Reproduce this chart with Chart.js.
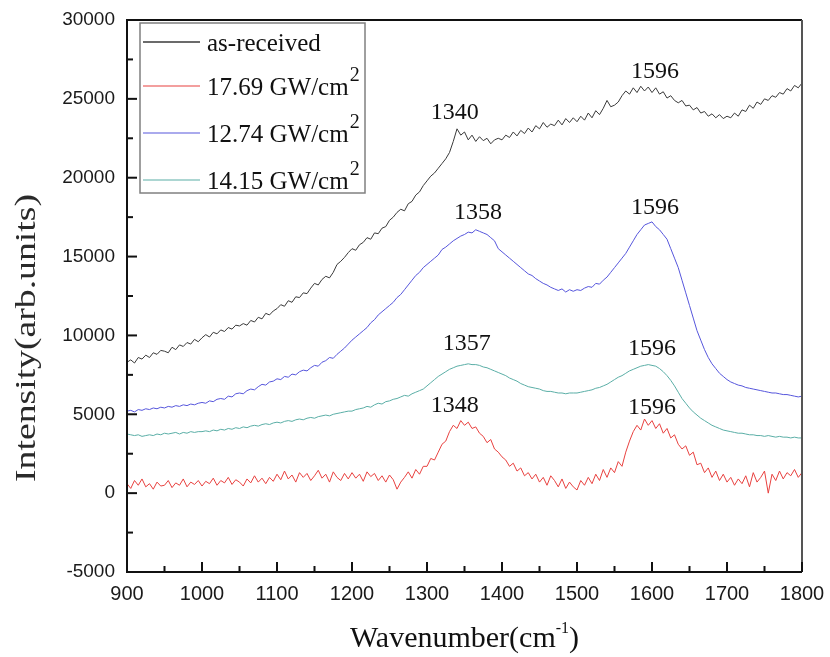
<!DOCTYPE html>
<html>
<head>
<meta charset="utf-8">
<script src="https://cdn.jsdelivr.net/npm/chart.js@4.4.1/dist/chart.umd.min.js"></script>
<style>
  html, body { margin: 0; padding: 0; background: #fff; }
  #wrap { width: 830px; height: 657px; }
</style>
</head>
<body>
<div id="wrap"><canvas id="ramanChart" width="830" height="657"></canvas></div>
<script>
const wavenumbers = [
  900, 905, 910, 915, 920, 925, 930, 935, 940, 945, 950, 955, 960, 965, 970, 975, 980, 985, 990, 995,
  1000, 1005, 1010, 1015, 1020, 1025, 1030, 1035, 1040, 1045, 1050, 1055, 1060, 1065, 1070, 1075, 1080, 1085, 1090, 1095,
  1100, 1105, 1110, 1115, 1120, 1125, 1130, 1135, 1140, 1145, 1150, 1155, 1160, 1165, 1170, 1175, 1180, 1185, 1190, 1195,
  1200, 1205, 1210, 1215, 1220, 1225, 1230, 1235, 1240, 1245, 1250, 1255, 1260, 1265, 1270, 1275, 1280, 1285, 1290, 1295,
  1300, 1305, 1310, 1315, 1320, 1325, 1330, 1335, 1340, 1345, 1350, 1355, 1360, 1365, 1370, 1375, 1380, 1385, 1390, 1395,
  1400, 1405, 1410, 1415, 1420, 1425, 1430, 1435, 1440, 1445, 1450, 1455, 1460, 1465, 1470, 1475, 1480, 1485, 1490, 1495,
  1500, 1505, 1510, 1515, 1520, 1525, 1530, 1535, 1540, 1545, 1550, 1555, 1560, 1565, 1570, 1575, 1580, 1585, 1590, 1595,
  1600, 1605, 1610, 1615, 1620, 1625, 1630, 1635, 1640, 1645, 1650, 1655, 1660, 1665, 1670, 1675, 1680, 1685, 1690, 1695,
  1700, 1705, 1710, 1715, 1720, 1725, 1730, 1735, 1740, 1745, 1750, 1755, 1760, 1765, 1770, 1775, 1780, 1785, 1790, 1795,
  1800
];

// as-received
const asReceived = [
  8300, 8450, 8250, 8600, 8500, 8750, 8600, 8900, 8800, 9050, 9000, 8900, 9250, 9100, 9400, 9300, 9550, 9450, 9750, 9600,
  9850, 10050, 9900, 10200, 10100, 10350, 10250, 10500, 10400, 10650, 10600, 10750, 10650, 10950, 10850, 11150, 11050, 11400, 11300, 11550,
  11700, 11950, 11850, 12200, 12100, 12450, 12400, 12700, 12650, 13000, 13300, 13200, 13550, 13750, 13650, 14000, 14500, 14700, 14950, 15250,
  15500, 15400, 15750, 15900, 16200, 16100, 16500, 16450, 16800, 16900, 17300, 17500, 17800, 18000, 17900, 18350, 18500, 18900, 19100, 19500,
  19800, 20100, 20300, 20600, 20900, 21200, 21600, 22300, 23100, 22700, 22900, 22400, 22700, 22300, 22600, 22350, 22500, 22150, 22400, 22500,
  22400, 22700, 22550, 22900, 22650, 23000, 22800, 23150, 22900, 23300, 23100, 23500, 23200, 23400, 23300, 23650, 23350, 23750, 23500, 23800,
  23550, 23900, 23650, 24100, 23800, 24250, 24000, 24400, 24900, 24500, 24600, 24800, 25200, 25500, 25300, 25700, 25400, 25800, 25500, 25750,
  25400, 25700, 25300, 25450, 25050, 25200, 24900, 24750, 24900, 24550, 24600, 24300, 24450, 24100, 24200, 23900, 24050, 23800, 24000, 23750,
  23900, 23800, 24100, 23900, 24300, 24200, 24600, 24400, 24800, 24650, 25000, 24900, 25200, 25100, 25400, 25300, 25650, 25500, 25850, 25700,
  26000
];

// 17.69 GW/cm2
const gw1769 = [
  600, 300, 800, 500, 900, 400, 600, 250, 700, 450, 500, 800, 350, 650, 500, 900, 400, 700, 550, 800,
  450, 750, 600, 950, 500, 800, 650, 1000, 550, 850, 700, 450, 900, 650, 1100, 700, 950, 600, 1000, 750,
  1200, 850, 1400, 900, 1150, 700, 1300, 1000, 1250, 800, 1100, 1450, 950, 1200, 700, 1350, 1000, 800, 1250, 900,
  1300, 950, 1200, 750, 1350, 1050, 1250, 800, 1100, 700, 1150, 850, 250, 700, 1000, 1350, 950, 1500, 1200, 1700,
  1700, 2200, 2100, 2600, 3100, 3300, 3900, 4300, 4100, 4600, 4300, 4500, 4100, 4200, 3800, 3600, 3200, 3400, 2800, 2600,
  2300, 2100, 1700, 1900, 1400, 1600, 1100, 1300, 900, 1200, 700, 1000, 500, 1100, 800, 400, 900, 300, 700, 400,
  200, 800, 500, 1000, 600, 1200, 800, 1500, 1000, 1600, 1300, 2000, 1700, 2600, 3300, 3900, 4300, 4000, 4700, 4300,
  4600, 4100, 4400, 3800, 4100, 3500, 3700, 3100, 2800, 3000, 2400, 2600, 1800, 1900, 1300, 1600, 1000, 1400, 800, 1200,
  700, 1000, 500, 900, 600, 1100, 400, 1300, 700, 1000, 1400, 0, 1200, 800, 1400, 900, 1300, 1100, 1500, 1000,
  1300
];

// 12.74 GW/cm2
const gw1274 = [
  5200, 5250, 5150, 5300, 5250, 5350, 5300, 5400, 5350, 5450, 5400, 5500, 5450, 5550, 5500, 5600, 5550, 5650, 5600, 5700,
  5750, 5700, 5850, 5800, 5950, 6000, 5950, 6150, 6100, 6300, 6350, 6300, 6500, 6600, 6550, 6750, 6900, 6850, 7050, 7100,
  7250, 7200, 7400, 7350, 7550, 7500, 7700, 7800, 7750, 7950, 8100, 8050, 8300, 8400, 8600, 8550, 8800, 9000, 9200, 9450,
  9700, 9900, 10100, 10300, 10500, 10800, 11000, 11300, 11500, 11700, 11900, 12100, 12400, 12600, 12900, 13200, 13500, 13800, 14000, 14300,
  14500, 14700, 14900, 15100, 15450, 15600, 15800, 16000, 16150, 16300, 16400, 16550, 16500, 16700, 16600, 16500, 16400, 16200, 16000, 15500,
  15300, 15100, 14900, 14700, 14500, 14300, 14100, 13900, 13800, 13600, 13450, 13300, 13200, 13050, 12950, 12850, 12950, 12750, 12900, 12800,
  12900, 12850, 13000, 13100, 13050, 13300, 13250, 13500, 13700, 14000, 14300, 14600, 14900, 15200, 15600, 16000, 16400, 16700, 17000, 17100,
  17200, 16900, 16700, 16400, 16100, 15500, 14900, 14300, 13500, 12700, 11900, 11100, 10300, 9700, 9100, 8600, 8200, 7900, 7600, 7400,
  7200, 7050, 6950, 6850, 6800, 6700, 6650, 6600, 6550, 6500, 6450, 6400, 6350, 6350, 6300, 6250, 6250, 6200, 6150, 6100,
  6150
];

// 14.15 GW/cm2
const gw1415 = [
  3750, 3700, 3650, 3700, 3600, 3650, 3700, 3650, 3750, 3700, 3800, 3750, 3800, 3850, 3750, 3850, 3800, 3900, 3850, 3900,
  3900, 3950, 3900, 4000, 3950, 4050, 4000, 4100, 4050, 4150, 4100, 4200, 4150, 4250, 4300, 4250, 4350, 4400, 4350, 4450,
  4500, 4450, 4550, 4600, 4550, 4650, 4700, 4650, 4750, 4800, 4750, 4850, 4900, 4950, 4900, 5000, 5050, 5100, 5150, 5200,
  5200, 5300, 5350, 5400, 5500, 5450, 5600, 5700, 5650, 5800, 5850, 5950, 6000, 6100, 6200, 6150, 6300, 6400, 6500, 6600,
  6800, 7000, 7200, 7400, 7550, 7700, 7850, 7950, 8050, 8100, 8150, 8200, 8150, 8150, 8100, 8000, 7950, 7850, 7750, 7650,
  7550, 7450, 7300, 7200, 7100, 6950, 6850, 6750, 6700, 6650, 6600, 6500, 6450, 6450, 6400, 6350, 6350, 6300, 6350, 6350,
  6350, 6400, 6450, 6500, 6550, 6650, 6700, 6800, 6900, 7050, 7200, 7350, 7450, 7600, 7750, 7850, 7950, 8050, 8100, 8150,
  8100, 8050, 7900, 7700, 7450, 7150, 6800, 6400, 6000, 5700, 5400, 5150, 4950, 4750, 4600, 4450, 4300, 4200, 4100, 4000,
  3950, 3900, 3850, 3800, 3800, 3750, 3700, 3700, 3650, 3650, 3600, 3650, 3600, 3550, 3600, 3550, 3550, 3500, 3550, 3500,
  3500
];

const seriesLabels = ['as-received', '17.69 GW/cm', '12.74 GW/cm', '14.15 GW/cm'];
const seriesSup = ['', '2', '2', '2'];
const seriesColors = ['#3a3a3a', '#e8413f', '#5656dc', '#5aaea6'];

// peak annotations
const peakText = ['1340', '1596', '1358', '1596', '1357', '1596', '1348', '1596'];
const peakX = [1337, 1604, 1368, 1604, 1353, 1600, 1337, 1600];
const peakY = [24100, 26700, 17750, 18070, 9450, 9130, 5520, 5390];

const SERIF = '"Liberation Serif", "Times New Roman", serif';
const SANS = '"Liberation Sans", Arial, sans-serif';

const allSeries = [asReceived, gw1769, gw1274, gw1415];

const decorations = {
  id: 'decorations',
  afterDraw(chart) {
    const { ctx, chartArea: a, scales: { x, y } } = chart;
    ctx.save();

    // frame
    ctx.lineWidth = 2;
    ctx.strokeStyle = '#111';
    ctx.beginPath();
    ctx.moveTo(a.right, a.top);
    ctx.lineTo(a.left, a.top);
    ctx.lineTo(a.left, a.bottom);
    ctx.lineTo(a.right, a.bottom);
    ctx.stroke();
    ctx.strokeStyle = '#555';
    ctx.beginPath();
    ctx.moveTo(a.right, a.top);
    ctx.lineTo(a.right, a.bottom);
    ctx.stroke();

    // inward ticks, major + minor
    ctx.fillStyle = '#111';
    const yStep = 5000, xStep = 100;
    for (let v = y.min; v <= y.max; v += yStep / 2) {
      const py = y.getPixelForValue(v);
      const len = (v % yStep === 0) ? 10 : 6;
      ctx.fillRect(a.left, py - 1, len, 2);
    }
    for (let v = x.min; v <= x.max; v += xStep / 2) {
      const px = x.getPixelForValue(v);
      const len = (v % xStep === 0) ? 10 : 6;
      ctx.fillRect(px - 1, a.bottom - len, 2, len);
    }

    // peak labels
    ctx.fillStyle = '#111';
    ctx.font = '24px ' + SERIF;
    ctx.textAlign = 'center';
    ctx.textBaseline = 'middle';
    peakText.forEach((t, i) => {
      ctx.fillText(t, x.getPixelForValue(peakX[i]), y.getPixelForValue(peakY[i]));
    });

    // legend box
    const lx = 140, ly = 23, lw = 225, lh = 170;
    ctx.fillStyle = '#fff';
    ctx.fillRect(lx, ly, lw, lh);
    ctx.lineWidth = 1.5;
    ctx.strokeStyle = '#808080';
    ctx.strokeRect(lx, ly, lw, lh);
    const rowY = [42, 86, 133, 180];
    ctx.textAlign = 'left';
    ctx.textBaseline = 'middle';
    seriesLabels.forEach((lab, i) => {
      ctx.strokeStyle = seriesColors[i];
      ctx.lineWidth = i === 0 ? 1.5 : 1.2;
      ctx.beginPath();
      ctx.moveTo(143, rowY[i]);
      ctx.lineTo(200, rowY[i]);
      ctx.stroke();
      ctx.fillStyle = '#111';
      ctx.font = '25px ' + SERIF;
      ctx.fillText(lab, 207, rowY[i] + 2);
      if (seriesSup[i]) {
        const w = ctx.measureText(lab).width;
        ctx.font = '20px ' + SERIF;
        ctx.fillText(seriesSup[i], 207 + w + 1, rowY[i] - 10);
      }
    });

    // x title
    ctx.fillStyle = '#111';
    ctx.textBaseline = 'alphabetic';
    ctx.font = '30px ' + SERIF;
    const t1 = 'Wavenumber(cm', t2 = '-1', t3 = ')';
    const w1 = ctx.measureText(t1).width, w3 = ctx.measureText(t3).width;
    ctx.font = '16px ' + SERIF;
    const w2 = ctx.measureText(t2).width;
    let sx = (a.left + a.right) / 2 - (w1 + w2 + w3) / 2;
    ctx.font = '30px ' + SERIF;
    ctx.fillText(t1, sx, 647);
    ctx.font = '16px ' + SERIF;
    ctx.fillText(t2, sx + w1, 633);
    ctx.font = '30px ' + SERIF;
    ctx.fillText(t3, sx + w1 + w2, 647);

    // y title
    ctx.translate(35, 338);
    ctx.rotate(-Math.PI / 2);
    ctx.scale(1.3, 1);
    ctx.font = '29px ' + SERIF;
    ctx.textAlign = 'center';
    ctx.fillStyle = '#2a2a2a';
    ctx.fillText('Intensity(arb.units)', 0, 0);

    ctx.restore();
  }
};

new Chart(document.getElementById('ramanChart'), {
  type: 'line',
  data: {
    datasets: allSeries.map((vals, i) => ({
      label: seriesLabels[i] + (seriesSup[i] ? '\u00b2' : ''),
      data: wavenumbers.map((w, k) => ({ x: w, y: vals[k] })),
      borderColor: seriesColors[i],
      borderWidth: 1,
      pointRadius: 0,
      tension: 0,
      fill: false
    }))
  },
  options: {
    responsive: false,
    animation: false,
    layout: { padding: { top: 20, right: 28, left: 0, bottom: 0 } },
    plugins: { legend: { display: false }, tooltip: { enabled: false } },
    scales: {
      x: {
        type: 'linear',
        min: 900,
        max: 1800,
        grid: { display: false, drawTicks: false },
        border: { display: false },
        ticks: { stepSize: 100, padding: 10, color: '#1a1a1a', font: { family: SANS, size: 20 }, callback: v => String(v) },
        afterFit(scale) { scale.height = 85; scale.paddingLeft = 0; scale.paddingRight = 0; }
      },
      y: {
        min: -5000,
        max: 30000,
        grid: { display: false, drawTicks: false },
        border: { display: false },
        ticks: { stepSize: 5000, padding: 12, color: '#1a1a1a', font: { family: SANS, size: 19 }, callback: v => String(v) },
        afterFit(scale) { scale.width = 127; scale.paddingTop = 0; scale.paddingBottom = 0; }
      }
    }
  },
  plugins: [decorations]
});
</script>
</body>
</html>
